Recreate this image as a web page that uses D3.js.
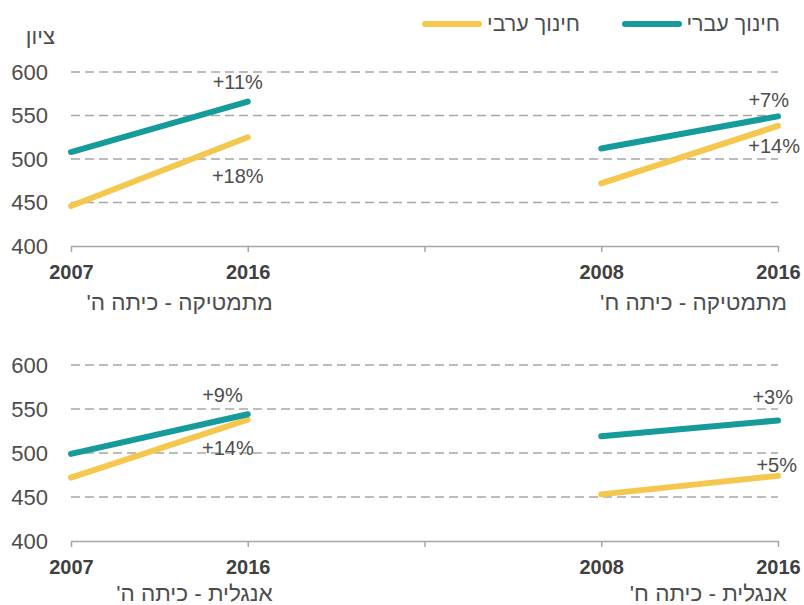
<!DOCTYPE html>
<html>
<head>
<meta charset="utf-8">
<script src="https://cdn.jsdelivr.net/npm/d3@7"></script>
<style>
  body { margin: 0; background: #fff; }
  svg text { font-family: "Liberation Sans", Arial, sans-serif; }
</style>
</head>
<body>
<svg id="chart" width="804" height="605"></svg>
<script>
// data
const subjects = ["מתמטיקה", "אנגלית"];
const grades = ["כיתה ה'", "כיתה ח'"];
const startYears = ["2007", "2008"];
const endYear = "2016";
const seriesNames = ["חינוך עברי", "חינוך ערבי"];
// [math 5, math 8, english 5, english 8]
const hebrewStart = [508, 512, 499, 519];
const hebrewEnd = [566, 549, 544, 537];
const arabStart = [446, 472, 472, 453];
const arabEnd = [525, 538, 538, 474];
const yTicks = [400, 450, 500, 550, 600];
const yTitle = "ציון";

const colours = ["#169b9b", "#f4c84f"];
const textGrey = "#4d4d4d";

const svg = d3.select("#chart");

// five slots along the shared axis: start, end, gap, start, end
const slots = ["s0", "e0", "gap", "s1", "e1"];
const slotLabels = [startYears[0], endYear, "", startYears[1], endYear];
const x = d3.scalePoint().domain(slots).range([71, 778]);

const rows = [
  { y0: 246, y1: 72 },
  { y0: 541, y1: 365 }
];

// label placement per panel & series: [dx, dy, anchor]
const labelPos = [
  [[-10, -13, "middle"], [-10, 46, "middle"]],
  [[11, -9, "end"], [22, 27, "end"]],
  [[-5, -12, "end"], [6, 35, "end"]],
  [[15, -16, "end"], [19, -4, "end"]]
];

rows.forEach((row, r) => {
  const y = d3.scaleLinear().domain([400, 600]).range([row.y0, row.y1]);
  const g = svg.append("g");

  // dashed grid
  g.selectAll("line.grid")
    .data(yTicks.filter(d => d > 400))
    .enter()
    .append("line")
    .attr("class", "grid")
    .attr("x1", x.range()[0])
    .attr("x2", x.range()[1])
    .attr("y1", d => y(d))
    .attr("y2", d => y(d))
    .attr("stroke", "#a6a6a6")
    .attr("stroke-width", 1.5)
    .attr("stroke-dasharray", "9,5");

  // y tick labels
  g.selectAll("text.ytick")
    .data(yTicks)
    .enter()
    .append("text")
    .attr("class", "ytick")
    .attr("x", 48)
    .attr("y", d => y(d))
    .attr("dy", "0.36em")
    .attr("text-anchor", "end")
    .attr("font-size", 22)
    .attr("fill", textGrey)
    .text(d => d);

  // x axis
  const axis = d3.axisBottom(x)
    .tickSize(6)
    .tickSizeOuter(0)
    .tickFormat((d, i) => slotLabels[i]);
  const ax = g.append("g")
    .attr("transform", `translate(0,${row.y0})`)
    .call(axis);
  ax.select(".domain").attr("stroke", "#a6a6a6").attr("stroke-width", 1.5);
  ax.selectAll(".tick line").attr("stroke", "#a6a6a6").attr("stroke-width", 1.5);
  ax.selectAll(".tick text")
    .attr("y", 33)
    .attr("dy", 0)
    .attr("font-size", 20)
    .attr("font-weight", "bold")
    .attr("fill", "#404040")
    .attr("font-family", "Liberation Sans, Arial, sans-serif");

  // two panels in the row
  [0, 1].forEach(p => {
    const idx = r * 2 + p;
    const xs = x(p === 0 ? "s0" : "s1");
    const xe = x(p === 0 ? "e0" : "e1");
    const series = [
      [hebrewStart[idx], hebrewEnd[idx]],
      [arabStart[idx], arabEnd[idx]]
    ];
    // draw arab first so hebrew sits on top
    [1, 0].forEach(s => {
      const vals = series[s];
      const line = d3.line().x((d, i) => (i === 0 ? xs : xe)).y(d => y(d));
      g.append("path")
        .datum(vals)
        .attr("d", line)
        .attr("fill", "none")
        .attr("stroke", colours[s])
        .attr("stroke-width", 6)
        .attr("stroke-linecap", "round");

      const pct = Math.round((vals[1] / vals[0] - 1) * 100);
      const lp = labelPos[idx][s];
      g.append("text")
        .attr("x", xe + lp[0])
        .attr("y", y(vals[1]) + lp[1])
        .attr("text-anchor", lp[2])
        .attr("font-size", 20)
        .attr("fill", textGrey)
        .text(`+${pct}%`);
    });

    // panel subtitle
    g.append("text")
      .attr("x", xe + (p === 0 ? 25 : 9))
      .attr("y", row.y0 + 64 - r * 4)
      .attr("direction", "rtl")
      .attr("text-anchor", "start")
      .attr("font-size", 22.5)
      .attr("fill", textGrey)
      .text(`${subjects[r]} - ${grades[p]}`);
  });
});

// y title
svg.append("text")
  .attr("x", 55)
  .attr("y", 44)
  .attr("text-anchor", "end")
  .attr("font-size", 22)
  .attr("fill", textGrey)
  .text(yTitle);

// legend
const legendItems = [
  { name: seriesNames[0], colour: colours[0], textEnd: 780, lineX: [625, 679] },
  { name: seriesNames[1], colour: colours[1], textEnd: 580, lineX: [425, 479] }
];
const legend = svg.append("g");
legendItems.forEach(d => {
  legend.append("line")
    .attr("x1", d.lineX[0])
    .attr("x2", d.lineX[1])
    .attr("y1", 24)
    .attr("y2", 24)
    .attr("stroke", d.colour)
    .attr("stroke-width", 6)
    .attr("stroke-linecap", "round");
  legend.append("text")
    .attr("x", d.textEnd)
    .attr("y", 31)
    .attr("text-anchor", "end")
    .attr("font-size", 21.5)
    .attr("fill", textGrey)
    .text(d.name);
});
</script>
</body>
</html>
